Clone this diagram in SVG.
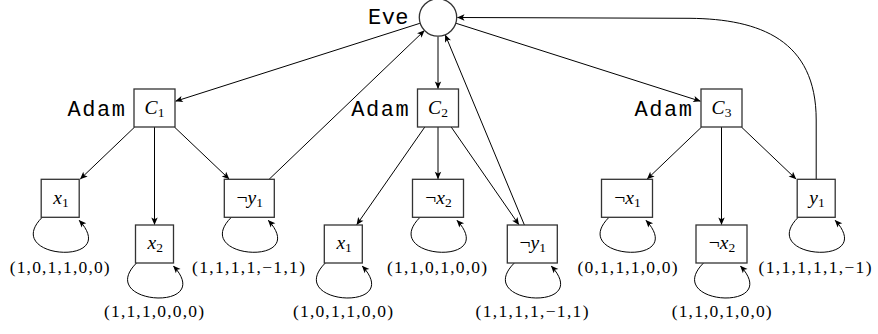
<svg xmlns="http://www.w3.org/2000/svg" width="878" height="334" viewBox="0 0 878 334">
<style>
.box{fill:#fff;stroke:#333;stroke-width:1.3}
.circ{fill:#fff;stroke:#333;stroke-width:1.3}
.edge{fill:none;stroke:#000;stroke-width:1;marker-end:url(#arr)}
.lbl{font-family:"Liberation Serif",serif;font-size:17.5px;text-anchor:middle;fill:#000}
.nt{font-family:"Liberation Serif",serif;font-size:19.5px;text-anchor:middle;fill:#000}
.it{font-style:italic}
.sub{font-size:13.5px}
.tt{font-family:"Liberation Mono",monospace;font-size:22px;fill:#000}
</style>
<defs>
<marker id="arr" viewBox="-8 -4 9 8" refX="0" refY="0" markerWidth="9" markerHeight="8" markerUnits="userSpaceOnUse" orient="auto">
<path d="M0.5,0 L-7,-3.2 L-5.2,0 L-7,3.2 Z" fill="#000"/>
</marker>
</defs>
<rect width="878" height="334" fill="#fff"/>
<g id="connectors">
<path class="edge" d="M419.9,23.3 L175.7,101.2"/>
<path class="edge" d="M438,36.5 L438,88.5"/>
<path class="edge" d="M456.1,23.3 L700.3,101.2"/>
<path class="edge" d="M816.2,179.3 L816.2,120 C816.2,40 760,19 690,18.3 L457.5,17.5"/>
<path class="edge" d="M134.7,127 L80.4,178.9"/>
<path class="edge" d="M154.5,127 L154.5,224.5"/>
<path class="edge" d="M174.4,127 L229,178.9"/>
<path class="edge" d="M269.1,179.3 L424.3,30.7"/>
<path class="edge" d="M424.8,127 L356.8,224.6"/>
<path class="edge" d="M438,127 L438,178.8"/>
<path class="edge" d="M451.2,127 L518.8,224.6"/>
<path class="edge" d="M524.4,225 L445.3,35"/>
<path class="edge" d="M701.6,127 L647.3,178.9"/>
<path class="edge" d="M721.5,127 L721.5,224.5"/>
<path class="edge" d="M741.4,127 L795.9,178.9"/>
<path class="edge" d="M42.2,217.3 C0.2,259.3 122.2,267.3 79.2,220.3"/>
<path class="edge" d="M136.5,263 C94.5,305 216.5,313 173.5,266"/>
<path class="edge" d="M231.3,217.3 C189.3,259.3 311.3,267.3 268.3,220.3"/>
<path class="edge" d="M325.3,263 C283.3,305 405.3,313 362.3,266"/>
<path class="edge" d="M420,217.3 C378,259.3 500,267.3 457,220.3"/>
<path class="edge" d="M514.3,263 C472.3,305 594.3,313 551.3,266"/>
<path class="edge" d="M609,217.3 C567,259.3 689,267.3 646,220.3"/>
<path class="edge" d="M703.5,263 C661.5,305 783.5,313 740.5,266"/>
<path class="edge" d="M798.2,217.3 C756.2,259.3 878.2,267.3 835.2,220.3"/>
</g>
<g id="eve">
<circle class="circ" cx="438" cy="17.5" r="18.7"/>
<text class="tt" x="368" y="24" textLength="40.5" lengthAdjust="spacing">Eve</text>
</g>
<g id="c1">
<rect class="box" x="134" y="89" width="41" height="38"/>
<text class="tt" x="67.5" y="116" textLength="57.5" lengthAdjust="spacing">Adam</text>
<text class="nt" x="154.5" y="114"><tspan class="it">C</tspan><tspan class="sub" dy="3">1</tspan></text>
</g>
<g id="c2">
<rect class="box" x="417.5" y="89" width="41" height="38"/>
<text class="tt" x="351.2" y="116" textLength="57.5" lengthAdjust="spacing">Adam</text>
<text class="nt" x="438" y="114"><tspan class="it">C</tspan><tspan class="sub" dy="3">2</tspan></text>
</g>
<g id="c3">
<rect class="box" x="701" y="89" width="41" height="38"/>
<text class="tt" x="634.5" y="116" textLength="57.5" lengthAdjust="spacing">Adam</text>
<text class="nt" x="721.5" y="114"><tspan class="it">C</tspan><tspan class="sub" dy="3">3</tspan></text>
</g>
<g id="c1-x1">
<rect class="box" x="41.2" y="179.3" width="38" height="38"/>
<text class="nt" x="61" y="203.5"><tspan class="it">x</tspan><tspan class="sub" dy="3">1</tspan></text>
<text class="lbl" x="59.7" y="273" textLength="100" lengthAdjust="spacing">(1,0,1,1,0,0)</text>
</g>
<g id="c1-x2">
<rect class="box" x="135.5" y="225" width="38" height="38"/>
<text class="nt" x="155.3" y="249.2"><tspan class="it">x</tspan><tspan class="sub" dy="3">2</tspan></text>
<text class="lbl" x="154" y="316.5" textLength="100" lengthAdjust="spacing">(1,1,1,0,0,0)</text>
</g>
<g id="c1-ny1">
<rect class="box" x="224.3" y="179.3" width="50" height="38"/>
<text class="nt" x="249.8" y="203.5">¬<tspan class="it">y</tspan><tspan class="sub" dy="3">1</tspan></text>
<text class="lbl" x="248.5" y="273" textLength="113" lengthAdjust="spacing">(1,1,1,1,−1,1)</text>
</g>
<g id="c2-x1">
<rect class="box" x="324.3" y="225" width="38" height="38"/>
<text class="nt" x="344.1" y="249.2"><tspan class="it">x</tspan><tspan class="sub" dy="3">1</tspan></text>
<text class="lbl" x="343" y="316.5" textLength="100" lengthAdjust="spacing">(1,0,1,1,0,0)</text>
</g>
<g id="c2-nx2">
<rect class="box" x="412.5" y="179.3" width="51" height="38"/>
<text class="nt" x="438.5" y="203.5">¬<tspan class="it">x</tspan><tspan class="sub" dy="3">2</tspan></text>
<text class="lbl" x="437" y="273" textLength="100" lengthAdjust="spacing">(1,1,0,1,0,0)</text>
</g>
<g id="c2-ny1">
<rect class="box" x="507.3" y="225" width="50" height="38"/>
<text class="nt" x="532.8" y="249.2">¬<tspan class="it">y</tspan><tspan class="sub" dy="3">1</tspan></text>
<text class="lbl" x="532" y="316.5" textLength="113" lengthAdjust="spacing">(1,1,1,1,−1,1)</text>
</g>
<g id="c3-nx1">
<rect class="box" x="601.5" y="179.3" width="51" height="38"/>
<text class="nt" x="627.5" y="203.5">¬<tspan class="it">x</tspan><tspan class="sub" dy="3">1</tspan></text>
<text class="lbl" x="627.5" y="273" textLength="100" lengthAdjust="spacing">(0,1,1,1,0,0)</text>
</g>
<g id="c3-nx2">
<rect class="box" x="696" y="225" width="51" height="38"/>
<text class="nt" x="722" y="249.2">¬<tspan class="it">x</tspan><tspan class="sub" dy="3">2</tspan></text>
<text class="lbl" x="721.7" y="316.5" textLength="100" lengthAdjust="spacing">(1,1,0,1,0,0)</text>
</g>
<g id="c3-y1">
<rect class="box" x="797.2" y="179.3" width="38" height="38"/>
<text class="nt" x="817" y="203.5"><tspan class="it">y</tspan><tspan class="sub" dy="3">1</tspan></text>
<text class="lbl" x="815" y="273" textLength="113" lengthAdjust="spacing">(1,1,1,1,1,−1)</text>
</g>
</svg>
